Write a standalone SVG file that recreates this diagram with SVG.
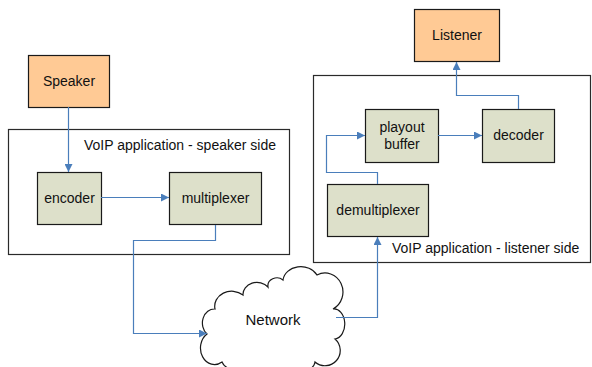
<svg xmlns="http://www.w3.org/2000/svg" width="592" height="367" viewBox="0 0 592 367">
<defs>
<marker id="arr" viewBox="0 0 10 10" refX="10" refY="5" markerWidth="8" markerHeight="8" markerUnits="userSpaceOnUse" orient="auto">
<path d="M0,0 L10,5 L0,10 z" fill="#4a7ebb"/>
</marker>
<style>
text{font-family:"Liberation Sans",Arial,sans-serif;font-size:14px;fill:#111}
.c{text-anchor:middle}
.box{stroke:#1a1a1a;stroke-width:1.2}
.person{fill:#ffca95}
.proc{fill:#dde0ca}
.cont{fill:#fff;stroke:#2a2a2a;stroke-width:1.2}
.con{fill:none;stroke:#4a7ebb;stroke-width:1.2}
</style>
</defs>
<rect width="592" height="367" fill="#fff"/>
<g id="speaker-side">
<rect class="cont" x="8.5" y="129.5" width="281" height="125"/>
<text x="84" y="150">VoIP application - speaker side</text>
</g>
<g id="listener-side">
<rect class="cont" x="313.5" y="75.5" width="277" height="187"/>
<text x="392" y="253">VoIP application - listener side</text>
</g>
<g id="speaker"><rect class="box person" x="28.5" y="55.5" width="81" height="52"/><text class="c" x="69" y="86">Speaker</text></g>
<g id="listener"><rect class="box person" x="414.5" y="9.5" width="85" height="52"/><text class="c" x="457" y="40">Listener</text></g>
<g id="encoder"><rect class="box proc" x="37.5" y="172.5" width="64" height="52"/><text class="c" x="69.5" y="203">encoder</text></g>
<g id="multiplexer"><rect class="box proc" x="169.5" y="172.5" width="92" height="52"/><text class="c" x="215.5" y="203">multiplexer</text></g>
<g id="playout-buffer"><rect class="box proc" x="365.5" y="109.5" width="73" height="53"/><text class="c" x="402" y="132">playout</text><text class="c" x="402" y="149">buffer</text></g>
<g id="decoder"><rect class="box proc" x="482.5" y="109.5" width="72" height="53"/><text class="c" x="518.5" y="140">decoder</text></g>
<g id="demultiplexer"><rect class="box proc" x="327.5" y="184.5" width="101" height="52"/><text class="c" x="378" y="215">demultiplexer</text></g>
<g id="network">
<path d="M207,334 A12,14 0 0 1 215,309 A17,15 0 0 1 243,295 A14,12 0 0 1 268,287 A9,8 0 0 1 283,280 A18,15 0 0 1 317,275 A17,18 0 0 1 333,309 A10,14 0 0 1 335,339 A12,12 0 0 1 315,362 A12,10 0 0 1 295,368 A25,12 0 0 1 250,370 A20,12 0 0 1 222,362 A11,13 0 0 1 207,334 Z" fill="#fff" stroke="#1a1a1a" stroke-width="1.2"/>
<text class="c" x="273" y="325" style="font-size:15px">Network</text>
</g>
<g id="connectors">
<path class="con" d="M68.5,107 V172" marker-end="url(#arr)"/>
<path class="con" d="M101,197.5 H169" marker-end="url(#arr)"/>
<path class="con" d="M215.5,225 V240.5 H133.5 V333.5 H207" marker-end="url(#arr)"/>
<path class="con" d="M336,317.5 H377.5 V237" marker-end="url(#arr)"/>
<path class="con" d="M377.5,184 V172.5 H326.5 V135.5 H365" marker-end="url(#arr)"/>
<path class="con" d="M438,135.5 H482" marker-end="url(#arr)"/>
<path class="con" d="M518.5,109 V95.5 H456.5 V62" marker-end="url(#arr)"/>
</g>
</svg>
